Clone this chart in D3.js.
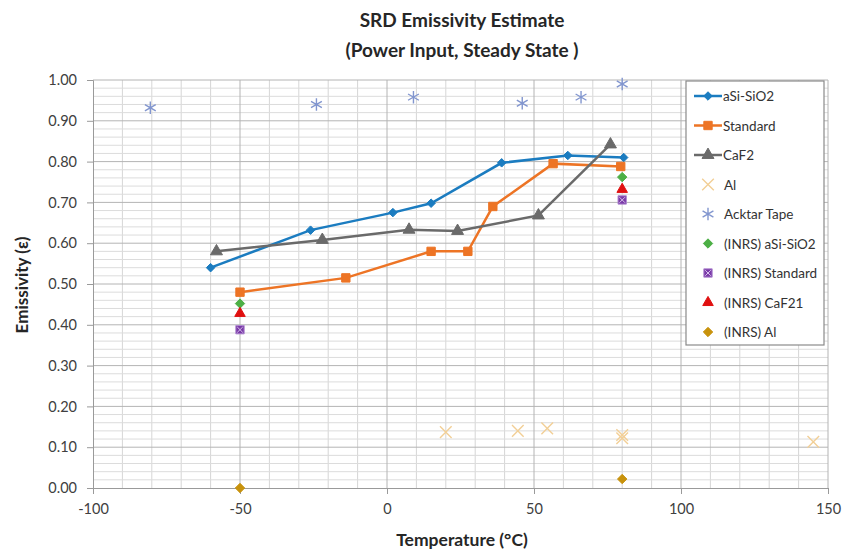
<!DOCTYPE html>
<html>
<head>
<meta charset="utf-8">
<script src="https://cdn.jsdelivr.net/npm/d3@7"></script>
<style>
  body { margin: 0; background: #fff; }
  svg { display: block; font-family: Lato, "Open Sans", sans-serif; }
</style>
</head>
<body>
<div id="chart"></div>
<script>
// ---- data ----
var seriesNames = ["aSi-SiO2", "Standard", "CaF2", "Al", "Acktar Tape",
  "(INRS) aSi-SiO2", "(INRS) Standard", "(INRS) CaF21", "(INRS) Al"];

var aSiSiO2 = [[-60, 0.54], [-26, 0.632], [2, 0.675], [15, 0.698], [39, 0.797], [61.5, 0.815], [80.5, 0.81]];
var standard = [[-50, 0.48], [-14, 0.515], [15, 0.58], [27.5, 0.58], [36, 0.69], [56.5, 0.795], [79.5, 0.788]];
var caF2 = [[-58, 0.58], [-22, 0.608], [7.5, 0.633], [24, 0.63], [51.5, 0.668], [76, 0.842]];
var al = [[20, 0.137], [44.5, 0.14], [54.5, 0.146], [80, 0.13], [80, 0.122], [145, 0.113]];
var acktar = [[-80.5, 0.932], [-24, 0.94], [9, 0.958], [46, 0.943], [66, 0.958], [80, 0.99]];
var inrsASi = [[-50, 0.452], [80, 0.762]];
var inrsStandard = [[-50, 0.388], [80, 0.706]];
var inrsCaF21 = [[-50, 0.428], [80, 0.732]];
var inrsAl = [[-50, 0.0], [80, 0.022]];

var xTicks = [-100, -50, 0, 50, 100, 150];
var yTicks = [0, 0.1, 0.2, 0.3, 0.4, 0.5, 0.6, 0.7, 0.8, 0.9, 1.0];

var W = 845, H = 554;
var margin = { top: 80, right: 15, bottom: 65, left: 93 };
var width = W - margin.left - margin.right,
  height = H - margin.top - margin.bottom;

var svg = d3.select("#chart").append("svg")
  .attr("width", W)
  .attr("height", H);

var g = svg.append("g")
  .attr("transform", "translate(" + margin.left + "," + margin.top + ")");

var x = d3.scaleLinear().domain([-100, 150]).range([0, width - 2]);
var y = d3.scaleLinear().domain([0, 1]).range([height - 1, 0]);

// minor grid
g.append("g").selectAll("line")
  .data(d3.range(-90, 150, 10).filter(function (v) { return v % 50 !== 0; }))
  .enter().append("line")
  .attr("x1", function (d) { return x(d); }).attr("x2", function (d) { return x(d); })
  .attr("y1", 0).attr("y2", y(0))
  .attr("stroke", "#d6d6d6").attr("stroke-width", 1);

g.append("g").selectAll("line")
  .data(d3.range(0.02, 1, 0.02).filter(function (v) { return Math.round(v * 100) % 10 !== 0; }))
  .enter().append("line")
  .attr("x1", 0).attr("x2", x(150))
  .attr("y1", function (d) { return y(d); }).attr("y2", function (d) { return y(d); })
  .attr("stroke", "#dcdcdc").attr("stroke-width", 1);

// major grid
g.append("g").selectAll("line")
  .data(xTicks.slice(1))
  .enter().append("line")
  .attr("x1", function (d) { return x(d); }).attr("x2", function (d) { return x(d); })
  .attr("y1", 0).attr("y2", y(0))
  .attr("stroke", "#b4b4b4").attr("stroke-width", 1);

g.append("g").selectAll("line")
  .data(yTicks.slice(1))
  .enter().append("line")
  .attr("x1", 0).attr("x2", x(150))
  .attr("y1", function (d) { return y(d); }).attr("y2", function (d) { return y(d); })
  .attr("stroke", "#b4b4b4").attr("stroke-width", 1);

// axes
var xAxis = g.append("g")
  .attr("transform", "translate(0," + y(0) + ")")
  .call(d3.axisBottom(x).tickValues(xTicks).tickSize(6).tickPadding(10)
    .tickFormat(function (d) { return String(d); }));
var yAxis = g.append("g")
  .call(d3.axisLeft(y).tickValues(yTicks).tickSize(6).tickPadding(10)
    .tickFormat(function (d) { return d.toFixed(2); }));

[xAxis, yAxis].forEach(function (a) {
  a.select(".domain").attr("stroke", "#9a9a9a");
  a.selectAll(".tick line").attr("stroke", "#9a9a9a");
  a.selectAll("text").attr("fill", "#404040").style("font-size", "14.5px")
    .style("font-family", "Lato, sans-serif");
});

// marker shapes
var sym = {
  diamond: d3.symbol().type(d3.symbolDiamond2).size(46),
  square: d3.symbol().type(d3.symbolSquare).size(70),
  triangle: d3.symbol().type(d3.symbolTriangle).size(62),
  cross: d3.symbol().type(d3.symbolX).size(90),
  star: d3.symbol().type(d3.symbolAsterisk).size(110),
  smallDiamond: d3.symbol().type(d3.symbolDiamond2).size(56),
  smallTriangle: d3.symbol().type(d3.symbolTriangle).size(48)
};

var series = [
  { name: seriesNames[0], data: aSiSiO2, color: "#1b7cc0", line: true, shape: "diamond", fill: true },
  { name: seriesNames[1], data: standard, color: "#ed7425", line: true, shape: "square", fill: true },
  { name: seriesNames[2], data: caF2, color: "#6a6a6a", line: true, shape: "triangle", fill: true },
  { name: seriesNames[3], data: al, color: "#f2cf96", line: false, shape: "cross", fill: false },
  { name: seriesNames[4], data: acktar, color: "#8296cf", line: false, shape: "star", fill: false },
  { name: seriesNames[5], data: inrsASi, color: "#4caf45", line: false, shape: "smallDiamond", fill: true },
  { name: seriesNames[6], data: inrsStandard, color: "#7a3aa8", line: false, shape: "square", fill: true, xmark: true },
  { name: seriesNames[7], data: inrsCaF21, color: "#e01010", line: false, shape: "smallTriangle", fill: true },
  { name: seriesNames[8], data: inrsAl, color: "#c8920c", line: false, shape: "smallDiamond", fill: true }
];

var line = d3.line()
  .x(function (d) { return x(d[0]); })
  .y(function (d) { return y(d[1]); });

function drawMarker(sel, s) {
  sel.append("path")
    .attr("d", sym[s.shape]())
    .attr("fill", s.fill ? s.color : "none")
    .attr("stroke", s.xmark ? "#b08ad0" : s.color)
    .attr("stroke-width", s.fill ? 1 : 1.4);
  if (s.xmark) {
    sel.append("path")
      .attr("d", d3.symbol().type(d3.symbolX).size(22)())
      .attr("stroke", "#d6c2ea").attr("stroke-width", 1).attr("fill", "none");
  }
}

series.forEach(function (s) {
  if (s.line) {
    g.append("path")
      .datum(s.data)
      .attr("d", line)
      .attr("fill", "none")
      .attr("stroke", s.color)
      .attr("stroke-width", 2.5);
  }
  g.append("g").selectAll("g")
    .data(s.data)
    .enter().append("g")
    .attr("transform", function (d) { return "translate(" + x(d[0]) + "," + y(d[1]) + ")"; })
    .each(function () { drawMarker(d3.select(this), s); });
});

// legend
var lg = svg.append("g").attr("transform", "translate(686,81)");
lg.append("rect")
  .attr("width", 138).attr("height", 264)
  .attr("fill", "#fff").attr("stroke", "#8a8a8a").attr("stroke-width", 1.2);

series.forEach(function (s, i) {
  var row = lg.append("g").attr("transform", "translate(0," + (15 + i * 29.5) + ")");
  if (s.line) {
    row.append("line").attr("x1", 8).attr("x2", 36).attr("y1", 0).attr("y2", 0)
      .attr("stroke", s.color).attr("stroke-width", 2.5);
  }
  var m = row.append("g").attr("transform", "translate(22,0)");
  drawMarker(m, s);
  row.append("text")
    .attr("x", s.line ? 37 : 38).attr("y", 5)
    .attr("fill", "#333")
    .style("font-size", "13.5px")
    .text(s.name);
});

// titles
var title = svg.append("text")
  .attr("x", 462).attr("text-anchor", "middle")
  .attr("fill", "#262626")
  .style("font-weight", "bold").style("font-size", "19px");
title.append("tspan").attr("x", 462).attr("y", 27).text("SRD Emissivity Estimate");
title.append("tspan").attr("x", 462).attr("y", 57).text("(Power Input, Steady State )");

svg.append("text")
  .attr("x", 462).attr("y", 546)
  .attr("text-anchor", "middle")
  .attr("fill", "#262626")
  .style("font-weight", "bold").style("font-size", "17.5px")
  .text("Temperature (°C)");

svg.append("text")
  .attr("transform", "translate(28,285) rotate(-90)")
  .attr("text-anchor", "middle")
  .attr("fill", "#262626")
  .style("font-weight", "bold").style("font-size", "17px")
  .text("Emissivity (ε)");
</script>
</body>
</html>
